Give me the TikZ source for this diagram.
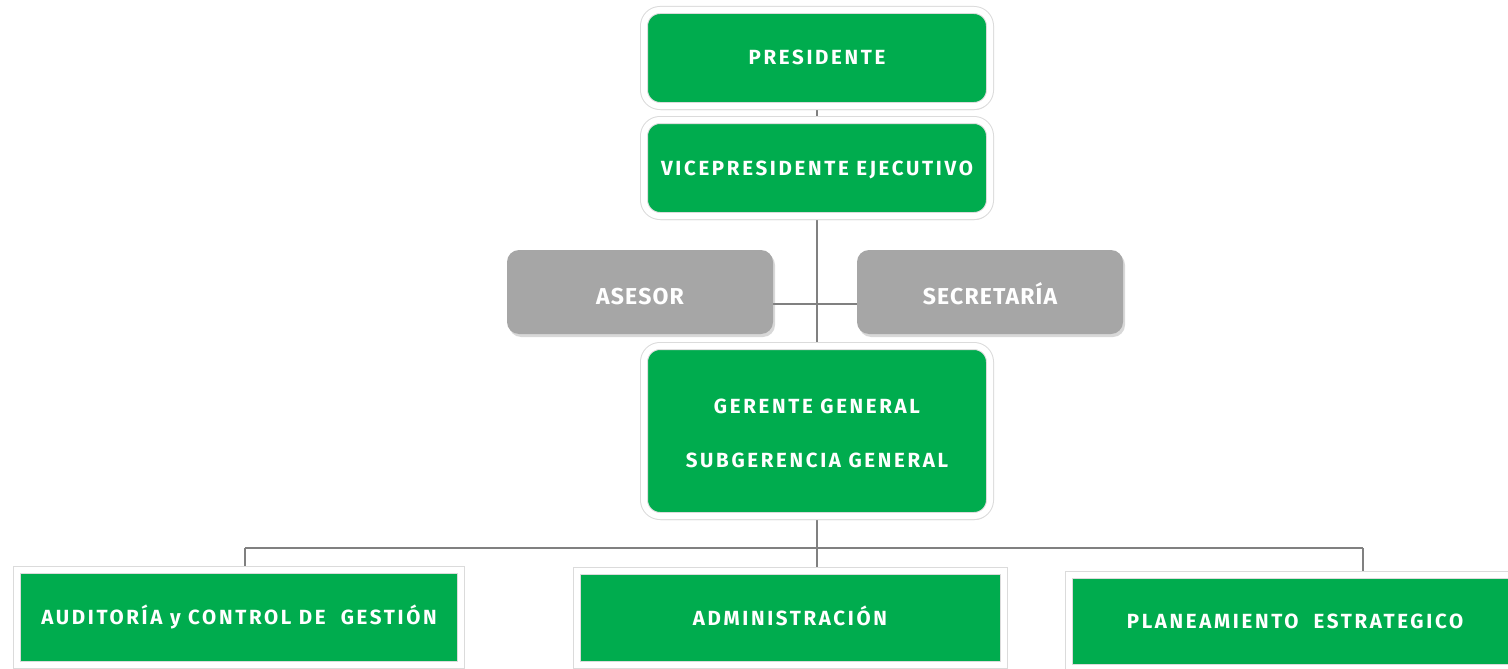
\documentclass[tikz,border=0pt]{standalone}
\usepackage{fontspec}
\setmainfont{Fira Sans}[LetterSpace=13]
\newfontfamily\apoyofont{Fira Sans}[LetterSpace=5]
\usetikzlibrary{positioning,
	shadows,
	backgrounds}
\definecolor{verde}{HTML}{00AC4E}
\definecolor{gris}{HTML}{A6A6A6}
\definecolor{linea}{HTML}{808080}
\tikzstyle{txt}=[text=white, align=center, inner sep=0, text height=14pt, text depth=0pt,
		font=\fontsize{20.5}{24}\selectfont\bfseries]
\tikzstyle{cargo}=[txt, fill=verde, draw=black!14, double=white,
		line width=1pt, double distance=6pt, rounded corners=16pt,
		drop shadow={opacity=0.25, shadow xshift=1pt, shadow yshift=-4pt}]
\tikzstyle{area}=[cargo, sharp corners]
\tikzstyle{apoyo}=[txt, fill=gris, rounded corners=12pt, text height=25pt,
		font=\apoyofont\fontsize{23}{27}\selectfont\bfseries,
		drop shadow={opacity=0.3, shadow xshift=2pt, shadow yshift=-3pt}]
\tikzstyle{con}=[draw=linea, line width=2pt]

\begin{document}
\begin{tikzpicture}[x=1pt, y=-1pt]
    \useasboundingbox (0,0) rectangle (1508,669);
    % direccion
    \node[cargo, minimum width=346, minimum height=96] (pres) at (817,58) {PRESIDENTE};
    \node[cargo, minimum width=346, minimum height=96] (vp) at (817,168) {VICEPRESIDENTE EJECUTIVO};
    \node[apoyo, minimum width=266, minimum height=84] (ases) at (640,292) {ASESOR};
    \node[apoyo, minimum width=266, minimum height=84] (secr) at (990,292) {SECRETARÍA};
    \node[cargo, minimum width=346, minimum height=170, text height=72pt] (ger) at (817,431)
        {GERENTE GENERAL\\[30pt]SUBGERENCIA GENERAL};
    % areas
    \node[area, minimum width=444, minimum height=95] (aud) at (239,617) {AUDITORÍA y CONTROL DE\ \ GESTIÓN};
    \node[area, minimum width=427, minimum height=94] (adm) at (790,618) {ADMINISTRACIÓN};
    \node[area, minimum width=452, minimum height=93] (plan) at (1295,621) {PLANEAMIENTO\ \ ESTRATEGICO};
    \coordinate (busL) at (245,548);
    \coordinate (busR) at (1363,548);
    \begin{scope}[on background layer]
        \fill[white] (0,0) rectangle (1508,669);
        \draw[con] (pres) -- (vp);
        \draw[con] (vp) -- (ger);
        \draw[con] ([yshift=-12pt]ases.east) -- ([yshift=-12pt]secr.west);
        \draw[con] (ger.south) -- (ger.south |- adm.north);
        \draw[con] (busL) -- (busR);
        \draw[con] (busL) -- (busL |- aud.north);
        \draw[con] (busR) -- (busR |- plan.north);
    \end{scope}
\end{tikzpicture}
\end{document}
